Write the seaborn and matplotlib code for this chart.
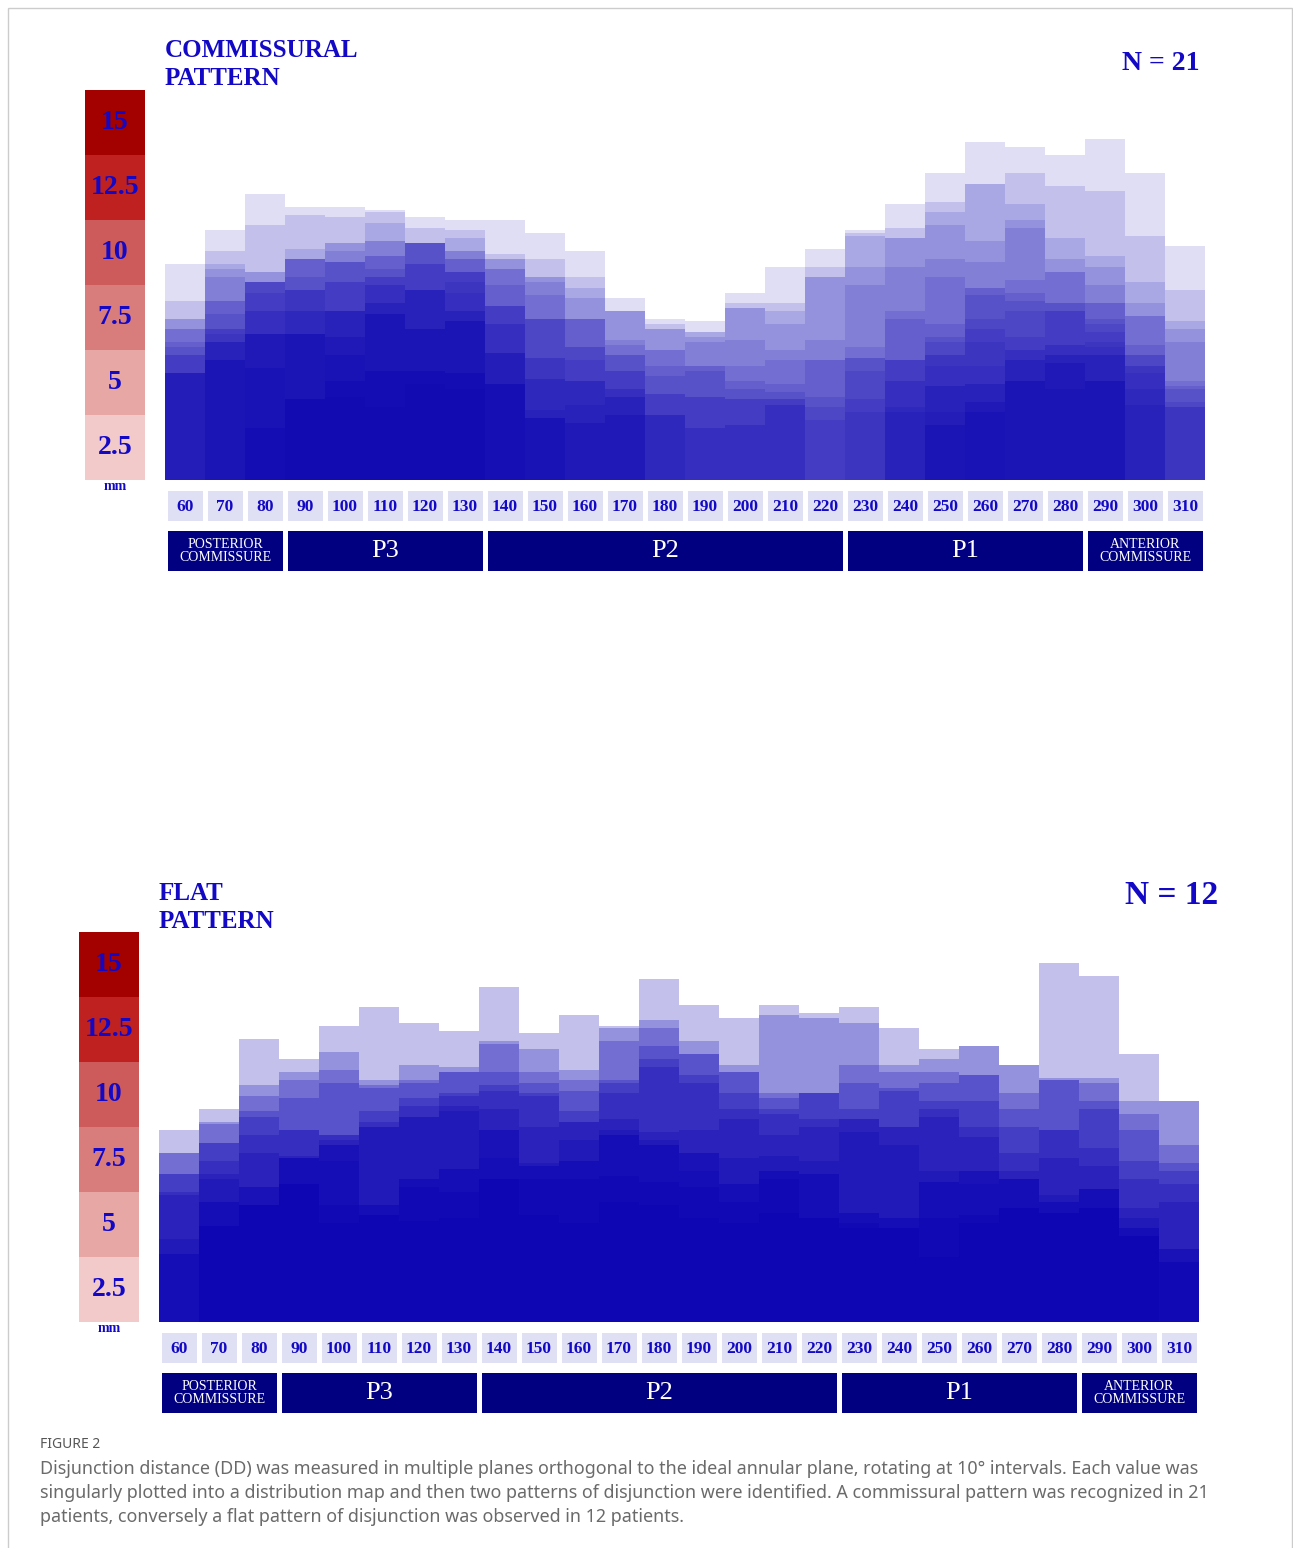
import numpy as np
import pandas as pd
import matplotlib
matplotlib.use('Agg')
import matplotlib.pyplot as plt
from matplotlib.patches import Rectangle
import seaborn as sns

# Angles of the measurement planes (degrees)
angles = [60, 70, 80, 90, 100, 110, 120, 130, 140, 150, 160, 170, 180,
          190, 200, 210, 220, 230, 240, 250, 260, 270, 280, 290, 300, 310]

# Disjunction distance (mm) of every patient with DD > 0, per angle
commissural_dd = [
    [8.3, 6.9, 6.2, 6.2, 5.8, 5.8, 5.3, 5.1, 4.8, 4.8, 4.1, 4.1, 4.1, 4.1, 4.1],
    [9.6, 8.8, 8.3, 8.1, 7.8, 6.9, 6.9, 6.4, 5.8, 5.8, 5.6, 5.3, 5.3, 5.3, 4.6, 4.6, 4.6],
    [11.0, 9.8, 8.0, 8.0, 7.6, 7.6, 7.6, 7.6, 7.6, 7.2, 6.5, 6.5, 5.6, 5.6, 5.6, 5.6, 4.3, 4.3, 2.0, 2.0],
    [10.5, 10.2, 8.9, 8.5, 8.5, 8.5, 8.5, 7.8, 7.3, 7.3, 7.3, 6.5, 6.5, 5.6, 5.6, 5.6, 5.6, 3.1, 3.1, 3.1, 3.1],
    [10.5, 10.1, 9.1, 9.1, 8.8, 8.4, 8.4, 8.4, 7.6, 7.6, 6.5, 6.5, 6.5, 6.5, 5.5, 5.5, 4.8, 4.8, 3.8, 3.8, 3.2],
    [10.4, 10.3, 9.9, 9.2, 9.2, 8.6, 8.6, 8.1, 7.8, 7.8, 7.5, 7.5, 6.8, 6.8, 6.4, 6.4, 6.4, 4.2, 4.2, 4.2, 2.8],
    [10.1, 9.7, 9.1, 9.1, 9.1, 9.1, 9.1, 9.1, 8.3, 8.3, 7.3, 7.3, 7.3, 7.3, 5.8, 5.8, 5.8, 4.2, 4.2, 4.2, 3.7],
    [10.0, 9.6, 9.3, 8.8, 8.8, 8.5, 8.5, 8.0, 8.0, 8.0, 7.6, 7.2, 6.5, 6.5, 6.1, 6.1, 6.1, 4.1, 4.1, 4.1, 3.5],
    [10.0, 8.7, 8.5, 8.5, 8.1, 8.1, 7.5, 6.7, 6.7, 6.7, 6.0, 6.0, 4.9, 4.9, 4.9, 3.7, 3.7, 3.7, 3.7],
    [9.5, 8.5, 7.8, 7.8, 7.6, 7.1, 6.2, 6.2, 6.2, 4.7, 4.7, 3.9, 3.9, 2.7, 2.4, 2.4, 2.4, 2.4],
    [8.8, 7.8, 7.4, 7.0, 6.2, 6.2, 6.2, 5.1, 5.1, 4.6, 3.8, 3.8, 3.8, 2.9, 2.2, 2.2],
    [7.0, 6.5, 6.5, 6.5, 5.4, 5.2, 4.8, 4.8, 4.2, 4.2, 3.5, 3.5, 3.2, 3.2, 2.5, 2.5],
    [6.2, 6.0, 5.8, 5.8, 5.0, 5.0, 4.4, 4.0, 3.3, 3.3, 2.5, 2.5, 2.5],
    [6.1, 5.7, 5.7, 5.5, 5.3, 4.4, 4.4, 4.2, 3.2, 3.2, 2.0, 2.0],
    [7.2, 6.8, 6.6, 6.6, 5.4, 4.4, 3.8, 3.5, 3.1, 3.1, 2.1, 2.1],
    [8.2, 6.8, 6.5, 6.0, 5.0, 4.6, 3.7, 3.4, 3.1, 3.1, 2.9, 2.9],
    [8.9, 8.2, 7.8, 7.8, 5.4, 4.6, 4.6, 3.2, 2.8, 2.3],
    [9.6, 9.5, 9.4, 8.2, 7.5, 5.1, 4.7, 4.7, 4.2, 3.1, 2.6],
    [10.6, 9.7, 9.3, 9.3, 8.2, 6.5, 6.2, 4.6, 4.6, 4.6, 3.8, 3.8, 2.8, 2.6],
    [11.8, 10.7, 10.3, 9.8, 8.5, 7.8, 6.0, 5.5, 5.3, 4.8, 4.8, 4.4, 3.6, 3.6, 2.6, 2.1, 2.1],
    [13.0, 11.4, 11.4, 9.2, 8.4, 7.4, 7.4, 7.1, 6.2, 5.8, 5.3, 4.4, 3.7, 3.7, 3.0, 3.0, 2.6, 2.6],
    [12.8, 11.8, 10.6, 10.0, 9.7, 7.7, 7.2, 6.9, 6.5, 5.5, 5.0, 5.0, 4.6, 4.6, 3.8, 3.8, 3.8],
    [12.5, 11.3, 9.3, 8.5, 8.0, 8.0, 6.8, 6.8, 6.5, 6.5, 5.2, 5.2, 4.8, 4.8, 4.5, 4.5, 3.5],
    [13.1, 11.1, 8.6, 8.2, 7.5, 6.8, 6.8, 6.2, 6.0, 5.7, 5.3, 5.1, 4.8, 4.8, 3.8, 3.8, 3.8],
    [11.8, 9.4, 7.6, 6.8, 6.3, 6.3, 5.2, 4.8, 4.8, 4.4, 4.4, 4.1, 3.5, 2.9],
    [9.0, 7.3, 6.1, 5.8, 5.3, 3.8, 3.6, 3.5, 3.0, 2.8, 2.8],
]

flat_dd = [
    [7.4, 6.5, 6.5, 5.7, 5.7, 5.0, 4.9, 3.2, 2.6, 2.6],
    [8.2, 7.7, 7.6, 6.9, 6.9, 6.2, 5.7, 5.5, 4.6, 4.6, 3.7, 3.7],
    [10.9, 9.1, 8.7, 8.1, 7.9, 7.2, 6.5, 5.2, 5.2, 4.5, 4.5, 4.5],
    [10.1, 9.6, 9.3, 8.6, 7.4, 7.4, 6.4, 6.3, 6.3, 6.3, 5.3, 5.3],
    [11.4, 10.4, 9.7, 9.2, 7.2, 7.2, 7.0, 6.8, 6.8, 6.2, 4.5, 3.8],
    [12.1, 9.3, 9.1, 9.0, 8.1, 7.7, 7.5, 7.5, 4.5, 4.5, 4.1, 4.1],
    [11.5, 9.9, 9.3, 9.2, 8.6, 8.3, 7.9, 7.9, 5.5, 5.5, 5.2, 3.9],
    [11.2, 9.8, 9.6, 9.6, 8.8, 8.7, 8.3, 8.1, 5.9, 5.9, 5.0, 4.0],
    [12.9, 10.8, 10.7, 9.6, 9.1, 8.9, 8.2, 7.4, 7.4, 6.3, 5.5, 5.5],
    [11.1, 10.5, 9.6, 9.2, 8.8, 8.7, 7.5, 6.1, 6.0, 6.0, 5.5, 4.1],
    [11.8, 9.7, 9.3, 8.9, 8.1, 7.7, 7.7, 7.0, 6.2, 6.2, 5.5, 3.8],
    [11.4, 11.3, 10.8, 9.3, 9.2, 8.8, 7.8, 7.4, 7.2, 7.2, 5.6, 4.6],
    [13.2, 11.6, 11.3, 10.6, 10.1, 9.8, 7.3, 7.0, 6.8, 6.8, 5.4, 4.5],
    [12.2, 10.8, 10.3, 10.3, 9.5, 9.2, 7.4, 6.5, 6.5, 5.8, 5.2, 4.0],
    [11.7, 9.9, 9.6, 9.6, 8.8, 8.2, 7.8, 6.3, 5.3, 5.3, 4.6, 3.8],
    [12.2, 11.8, 8.8, 8.6, 8.2, 8.0, 7.2, 6.4, 5.8, 5.8, 5.5, 4.2],
    [11.9, 11.7, 8.8, 8.8, 8.8, 7.8, 7.5, 6.2, 5.7, 5.7, 4.0, 4.0],
    [12.1, 11.5, 9.9, 9.2, 8.2, 7.8, 7.8, 7.3, 4.2, 4.2, 3.8, 3.6],
    [11.3, 9.9, 9.6, 9.0, 8.9, 7.5, 7.5, 6.8, 4.0, 4.0, 3.6, 3.6],
    [10.5, 10.1, 9.6, 9.2, 8.5, 8.2, 7.9, 5.8, 5.4, 5.4, 4.0, 2.5],
    [10.6, 10.6, 9.5, 9.5, 8.5, 7.5, 7.1, 5.8, 5.8, 5.3, 4.1, 3.8],
    [9.9, 9.9, 8.8, 8.2, 7.5, 6.5, 5.8, 5.5, 5.5, 5.5, 4.4, 4.4],
    [13.8, 9.4, 9.3, 9.3, 7.4, 7.4, 6.3, 4.9, 4.6, 4.6, 4.2, 4.2],
    [13.3, 9.4, 9.2, 8.5, 8.2, 6.7, 6.0, 5.1, 5.1, 5.1, 4.4, 4.4],
    [10.3, 8.5, 8.0, 7.4, 6.2, 5.5, 4.4, 4.0, 3.6, 3.6, 3.3, 3.3],
    [8.5, 8.5, 6.8, 6.1, 5.8, 5.3, 4.6, 2.8, 2.8, 2.3, 2.3],
]

scale_labels = ['2.5', '5', '7.5', '10', '12.5', '15']
scale_colors = ['#f2caca', '#e6a7a5', '#d97c7c', '#cd5b5b', '#bf2020', '#a30000']

segments = [('POSTERIOR\nCOMMISSURE', 60, 80), ('P3', 90, 130), ('P2', 140, 220),
            ('P1', 230, 280), ('ANTERIOR\nCOMMISSURE', 290, 310)]

caption_lines = [
    'Disjunction distance (DD) was measured in multiple planes orthogonal to the ideal annular plane, rotating at 10° intervals. Each value was',
    'singularly plotted into a distribution map and then two patterns of disjunction were identified. A commissural pattern was recognized in 21',
    'patients, conversely a flat pattern of disjunction was observed in 12 patients.',
]

W, H = 1293, 1548
BLUE = '#1208c6'
BAR_BASE = '#0800b2'
NAVY = '#000080'
SERIF = ['Liberation Serif', 'DejaVu Serif']

sns.set_theme(style='white')
plt.rcParams['font.family'] = SERIF

fig = plt.figure(figsize=(W / 100, H / 100), dpi=100)
fig.patch.set_facecolor('white')


def px_axes(x0, y0, x1, y1):
    return fig.add_axes([x0 / W, 1 - y1 / H, (x1 - x0) / W, (y1 - y0) / H])


def ftext(x, y, s, **kw):
    fig.text(x / W, 1 - y / H, s, **kw)


def draw_panel(dd, n_patients, alpha, bx, by, sx, title, n_text, title_xy, n_xy, n_size):
    labels = [str(a) for a in angles]
    # overlapping translucent bars: darker where more patients overlap
    ax = px_axes(bx, by - 390, bx + 1040, by)
    for k in range(n_patients):
        vals = [sorted(col, reverse=True)[k] if k < len(col) else 0.0 for col in dd]
        layer = pd.DataFrame({'angle': labels, 'dd': vals})
        sns.barplot(data=layer, x='angle', y='dd', order=labels, color=BAR_BASE,
                    alpha=alpha, width=1.0, saturation=1, errorbar=None,
                    linewidth=0, edgecolor='none', ax=ax)
    ax.set_xlim(-0.5, len(angles) - 0.5)
    ax.set_ylim(0, 15)
    ax.axis('off')

    # mm colour scale
    sax = px_axes(sx, by - 390, sx + 60, by)
    for i, (lab, c) in enumerate(zip(scale_labels, scale_colors)):
        sax.bar(0.5, 2.5, width=1.0, bottom=2.5 * i, color=c, linewidth=0)
        sax.text(0.5, 2.5 * i + 1.25, lab, ha='center', va='center', color=BLUE,
                 fontsize=20, fontweight='bold')
    sax.set_xlim(0, 1)
    sax.set_ylim(0, 15)
    sax.axis('off')
    ftext(sx + 30, by + 7, 'mm', ha='center', va='center', color=BLUE,
          fontsize=10, fontweight='bold')

    # angle boxes and region boxes
    lax = px_axes(bx, by + 5, bx + 1040, by + 95)
    lax.set_xlim(-0.5, len(angles) - 0.5)
    lax.set_ylim(by + 95, by + 5)
    for i, lab in enumerate(labels):
        lax.add_patch(Rectangle((i - 0.4375, by + 11), 0.875, 30,
                                facecolor='#e0e0f5', edgecolor='none'))
        lax.text(i, by + 27, lab, ha='center', va='center', color=BLUE,
                 fontsize=12.5, fontweight='bold')
    for name, a0, a1 in segments:
        i0, i1 = angles.index(a0), angles.index(a1)
        lax.add_patch(Rectangle((i0 - 0.4375, by + 51), i1 - i0 + 0.875, 40,
                                facecolor=NAVY, edgecolor='none'))
        big = not name.endswith('COMMISSURE')
        lax.text((i0 + i1) / 2, by + 71, name, ha='center', va='center', color='white',
                 fontsize=19 if big else 10, linespacing=0.95)
    lax.axis('off')

    ftext(title_xy[0], title_xy[1], title, ha='left', va='top', color=BLUE,
          fontsize=18, fontweight='bold', linespacing=1.3)
    ftext(n_xy[0], n_xy[1], n_text, ha='right', va='center', color=BLUE,
          fontsize=n_size, fontweight='bold')


draw_panel(commissural_dd, 21, 0.13, 165, 480, 85, 'COMMISSURAL\nPATTERN', 'N = 21',
           (165, 39), (1200, 64), 20)
draw_panel(flat_dd, 12, 0.245, 159, 1322, 79, 'FLAT\nPATTERN', 'N = 12',
           (159, 882), (1218, 896), 24)

# caption
ftext(40, 1444, 'FIGURE 2', ha='left', va='center', color='#555555',
      fontsize=10, family=['Noto Sans', 'DejaVu Sans'])
for j, line in enumerate(caption_lines):
    ftext(40, 1469 + 24 * j, line, ha='left', va='center', color='#6a6a6a',
          fontsize=12.9, family=['Noto Sans', 'DejaVu Sans'])

# outer frame
fig.patches.append(Rectangle((8 / W, -0.01), (1292 - 8) / W, 1.01 - 8 / H,
                             transform=fig.transFigure, fill=False,
                             edgecolor='#cccccc', linewidth=1))

fig.savefig('out.png', dpi=100, facecolor='white')
